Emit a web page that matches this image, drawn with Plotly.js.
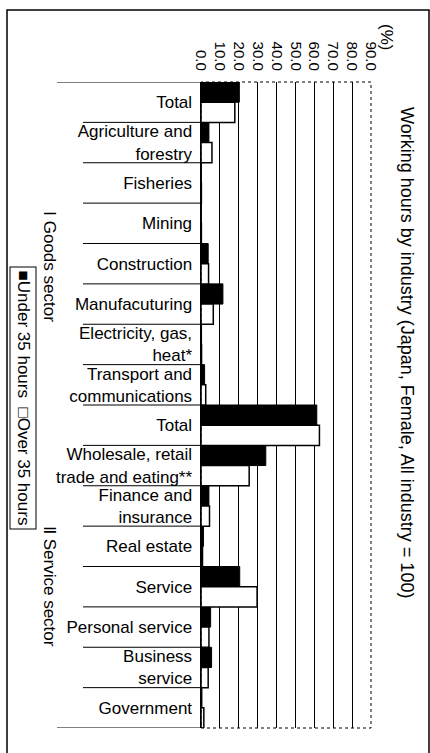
<!DOCTYPE html>
<html>
<head>
<meta charset="utf-8">
<script src="https://cdn.plot.ly/plotly-3.0.1.min.js"></script>
<style>
  html, body { margin: 0; padding: 0; background: #fff; }
  #chart { width: 430px; height: 753px; }
</style>
</head>
<body>
<div id="chart"></div>
<script>
// industries, top to bottom
const industries = [
  "Total", "Agriculture and<br>forestry", "Fisheries", "Mining", "Construction",
  "Manufacuturing", "Electricity, gas,<br>heat*", "Transport and<br>communications",
  "Total", "Wholesale, retail<br>trade and eating**", "Finance and<br>insurance",
  "Real estate", "Service", "Personal service", "Business<br>service", "Government"
];
const under35 = [20.3, 4.2, 0.2, 0.2, 3.8, 11.6, 0.3, 1.9, 61.3, 34.3, 4.2, 1.3, 20.5, 5.1, 5.6, 0.5];
const over35  = [17.9, 5.8, 0.2, 0.2, 4.0, 6.5, 0.3, 2.5, 62.7, 25.5, 4.5, 0.8, 29.7, 4.2, 3.8, 1.5];
const xTicks = [0, 10, 20, 30, 40, 50, 60, 70, 80, 90];

const rows = industries.map((_, i) => i);
const FONT = "Liberation Sans, Arial, sans-serif";

// pixel helpers -> paper coords (plot area x 201..371, y 82..728)
const L = 201, R = 371, T = 82, B = 728;
const px = (x) => (x - L) / (R - L);
const py = (y) => 1 - (y - T) / (B - T);

const separators = [];
for (let i = 0; i <= industries.length; i++) {
  const edge = i === 0 || i === industries.length;
  separators.push({
    type: "line", xref: "paper", yref: "y",
    x0: px(edge ? 57 : 83), x1: 0, y0: i - 0.5, y1: i - 0.5,
    line: { color: "#000", width: 1 }
  });
}

const note = (text, x, y, size, extra) => Object.assign({
  text, xref: "paper", yref: "paper", x: px(x), y: py(y),
  xanchor: "center", yanchor: "middle",
  textangle: 90, showarrow: false, font: { size }
}, extra || {});

Plotly.newPlot("chart", [
  {
    type: "bar", orientation: "h", name: "Under 35 hours",
    x: under35, y: rows,
    marker: { color: "#000", line: { color: "#000", width: 1 } }
  },
  {
    type: "bar", orientation: "h", name: "Over 35 hours",
    x: over35, y: rows,
    marker: { color: "#fff", line: { color: "#000", width: 1.5 } }
  }
], {
  width: 430, height: 753,
  margin: { l: L, r: 430 - R, t: T, b: 753 - B },
  paper_bgcolor: "#fff", plot_bgcolor: "#fff",
  font: { family: FONT, color: "#000", size: 17 },
  showlegend: false,
  barmode: "group", bargap: 0, bargroupgap: 0,
  xaxis: {
    range: [0, 90], side: "top", fixedrange: true,
    tickvals: xTicks, ticktext: xTicks.map((v) => v.toFixed(1)),
    tickangle: 90, ticks: "", ticklabelstandoff: 8,
    tickfont: { size: 15 },
    showgrid: true, gridcolor: "#000", gridwidth: 1,
    zeroline: false, showline: false
  },
  yaxis: {
    range: [industries.length - 0.5, -0.5], fixedrange: true,
    tickvals: rows, ticktext: industries,
    ticks: "", ticklabelstandoff: 4, automargin: false,
    tickfont: { size: 17 },
    showgrid: false, zeroline: false,
    showline: true, linecolor: "#000", linewidth: 1.5
  },
  shapes: [
    // dotted plot frame
    { type: "rect", xref: "paper", yref: "paper", x0: 0, x1: 1, y0: 0, y1: 1,
      line: { color: "#000", width: 1, dash: "dot" } },
    // outer page frame
    { type: "rect", xref: "paper", yref: "paper",
      x0: px(7), x1: px(429), y0: py(800), y1: py(10),
      line: { color: "#000", width: 1.5 } },
    ...separators
  ],
  annotations: [
    note("Working hours by industry (Japan, Female, All industry = 100)", 407, 352, 18),
    note("(%)", 387, 37, 17),
    note("Ⅰ Goods sector", 50, 266, 17),
    note("Ⅱ Service sector", 50, 586, 17),
    note("■Under 35 hours  □Over 35 hours", 23.5, 398, 17,
      { bordercolor: "#000", borderwidth: 1, borderpad: 3 })
  ]
}, { staticPlot: true, responsive: false });
</script>
</body>
</html>
